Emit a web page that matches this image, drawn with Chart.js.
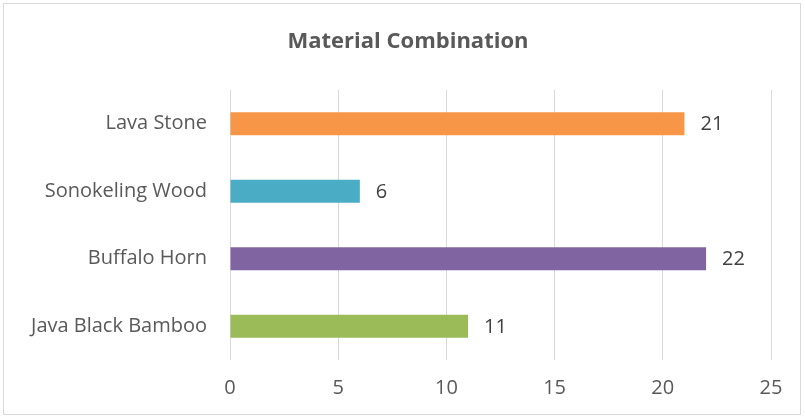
<!DOCTYPE html>
<html>
<head>
<meta charset="utf-8">
<script src="https://cdn.jsdelivr.net/npm/chart.js@4/dist/chart.umd.min.js"></script>
<style>
html,body{margin:0;padding:0;background:#fff;}
#wrap{position:relative;width:805px;height:419px;}
</style>
</head>
<body>
<div id="wrap"><canvas id="c" width="805" height="419"></canvas></div>
<script>
const categories = ["Lava Stone", "Sonokeling Wood", "Buffalo Horn", "Java Black Bamboo"];
const values = [21, 6, 22, 11];
const barColors = ["#F79646", "#4BACC6", "#8064A2", "#9BBB59"];
const xTicks = [0, 5, 10, 15, 20, 25];
const titleText = "Material Combination";

const FONT = "'Open Sans', sans-serif";

const framePlugin = {
  id: 'frame',
  beforeDraw(chart) {
    const ctx = chart.ctx;
    ctx.save();
    ctx.fillStyle = '#fff';
    ctx.fillRect(0, 0, chart.width, chart.height);
    ctx.strokeStyle = '#d9d9d9';
    ctx.lineWidth = 1;
    ctx.strokeRect(3.5, 3.5, 797, 411);
    ctx.fillStyle = '#595959';
    ctx.font = "bold 22px " + FONT;
    ctx.textAlign = 'center';
    ctx.textBaseline = 'middle';
    ctx.fillText(titleText, 408, 42);
    ctx.restore();
  }
};

const labelPlugin = {
  id: 'valLabels',
  afterDatasetsDraw(chart) {
    const ctx = chart.ctx;
    const meta = chart.getDatasetMeta(0);
    ctx.save();
    ctx.fillStyle = '#404040';
    ctx.font = "20px " + FONT;
    ctx.textAlign = 'left';
    ctx.textBaseline = 'middle';
    meta.data.forEach((bar, i) => {
      ctx.fillText(String(values[i]), bar.x + 16, bar.y + 1);
    });
    ctx.restore();
  }
};

new Chart(document.getElementById('c'), {
  type: 'bar',
  data: {
    labels: categories,
    datasets: [{
      data: values,
      backgroundColor: barColors,
      borderWidth: 0,
      barPercentage: 0.68,
      categoryPercentage: 0.5
    }]
  },
  options: {
    indexAxis: 'y',
    responsive: false,
    animation: false,
    devicePixelRatio: 1,
    layout: { padding: { left: 0, right: 34, top: 90, bottom: 0 } },
    plugins: { legend: { display: false }, title: { display: false }, tooltip: { enabled: false } },
    scales: {
      x: {
        min: 0, max: 25,
        afterFit(s) { s.height = 59; },
        afterBuildTicks(s) { s.ticks = xTicks.map(v => ({ value: v })); },
        grid: { color: '#d9d9d9', lineWidth: 1, drawTicks: false },
        border: { display: false },
        ticks: { color: '#595959', font: { family: FONT, size: 20 }, padding: 16 }
      },
      y: {
        afterFit(s) { s.width = 230; },
        grid: { display: false, drawTicks: false },
        border: { display: false },
        ticks: { color: '#595959', font: { family: FONT, size: 20 }, padding: 23 }
      }
    }
  },
  plugins: [framePlugin, labelPlugin]
});
</script>
</body>
</html>
